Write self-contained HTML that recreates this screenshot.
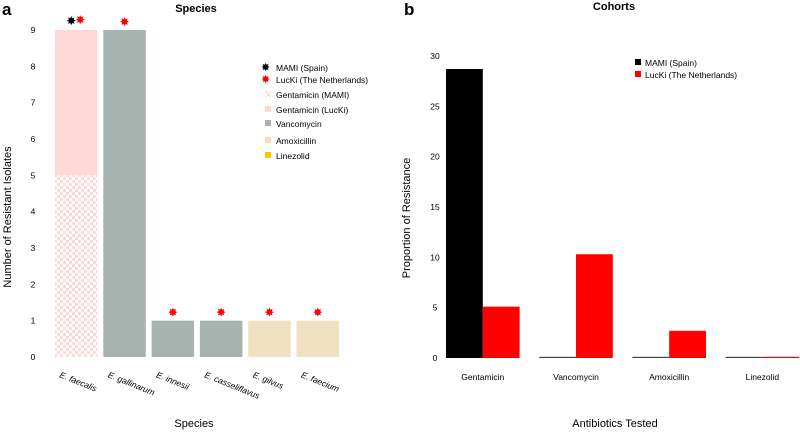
<!DOCTYPE html>
<html><head><meta charset="utf-8"><style>
body{margin:0;background:#fff;font-family:"Liberation Sans",sans-serif}
svg text{font-family:"Liberation Sans",sans-serif}
</style></head><body>
<svg id="c" width="800" height="430" viewBox="0 0 800 430">
<defs>
<pattern id="chk" width="6" height="6" patternUnits="userSpaceOnUse">
<rect width="6" height="6" fill="#fff"/><rect width="3" height="3" fill="#fcd9d6"/><rect x="3" y="3" width="3" height="3" fill="#fcd9d6"/>
</pattern>
</defs>
<text x="2" y="15" font-size="17" font-weight="bold">a</text>
<text x="196" y="12" font-size="11" font-weight="bold" text-anchor="middle">Species</text>
<text x="404" y="15" font-size="17" font-weight="bold">b</text>
<text x="614" y="10" font-size="11" font-weight="bold" text-anchor="middle">Cohorts</text>
<text transform="translate(11,217) rotate(-90)" font-size="11" text-anchor="middle">Number of Resistant Isolates</text>
<text x="194" y="427" font-size="11" text-anchor="middle">Species</text>
<text transform="translate(410,218) rotate(-90)" font-size="11" text-anchor="middle">Proportion of Resistance</text>
<text x="615" y="427" font-size="11" text-anchor="middle">Antibiotics Tested</text>
<g id="ga"></g><g id="gb"></g>
<g font-size="8.5">
<text x="261" y="71" fill="#000" font-size="11">✸</text><text x="276" y="71">MAMI (Spain)</text>
<text x="261" y="83" fill="#f00" font-size="11">✸</text><text x="276" y="83">LucKi (The Netherlands)</text>
<rect x="265" y="91" width="6" height="6" fill="url(#chk)"/><text x="276" y="98">Gentamicin (MAMI)</text>
<rect x="265" y="106" width="6" height="6" fill="#fcd9d6"/><text x="276" y="113">Gentamicin (LucKi)</text>
<rect x="265" y="120" width="6" height="6" fill="#a8b2ae"/><text x="276" y="127">Vancomycin</text>
<rect x="265" y="137" width="6" height="6" fill="#efe1c0"/><text x="276" y="144">Amoxicillin</text>
<rect x="265" y="152" width="6" height="6" fill="#f8c600"/><text x="276" y="159">Linezolid</text>
</g>
<g font-size="8.5">
<rect x="635" y="59" width="6" height="6" fill="#000"/><text x="645" y="66">MAMI (Spain)</text>
<rect x="635" y="71" width="6" height="6" fill="#f00"/><text x="645" y="78">LucKi (The Netherlands)</text>
</g>
</svg>
<script>
const NS='http://www.w3.org/2000/svg';
function mk(p,t,a,txt){const e=document.createElementNS(NS,t);for(const k in a)e.setAttribute(k,a[k]);if(txt!=null)e.textContent=txt;p.appendChild(e);return e;}
// Panel A data
const speciesCats=['E. faecalis','E. gallinarum','E. innesii','E. casseliflavus','E. gilvus','E. faecium'];
const gentMami=[5,0,0,0,0,0];
const gentLucki=[4,0,0,0,0,0];
const vanco=[0,9,1,1,0,0];
const amoxi=[0,0,0,0,1,1];
const starMami=[1,0,0,0,0,0];
const starLucki=[1,1,1,1,1,1];
const ticksA=[0,1,2,3,4,5,6,7,8,9];
// Panel B data
const antibiotics=['Gentamicin','Vancomycin','Amoxicillin','Linezolid'];
const mamiProp=[28.7,0.1,0.1,0.1];
const luckiProp=[5.1,10.3,2.7,0.1];
const ticksB=[0,5,10,15,20,25,30];

const ga=document.getElementById('ga');
const yA=v=>357-v*36.33, xA=i=>55+i*48.3;
ticksA.forEach(t=>{const e=mk(ga,'text',{x:33,y:yA(t)+3,'font-size':8.5,'text-anchor':'middle'},t);

});
speciesCats.forEach((c,i)=>{
  let base=0;const x=xA(i),w=42.5;
  [[gentMami,'url(#chk)'],[gentLucki,'#fcd9d6'],[vanco,'#a8b2ae'],[amoxi,'#efe1c0']].forEach(([arr,f])=>{
    const v=arr[i];if(!v)return;
    const r=mk(ga,'rect',{x:x,y:yA(base+v),width:w,height:yA(base)-yA(base+v),fill:f});
    
    
    base+=v;});
  const top=yA(base)-12;
  if(starMami[i]&&starLucki[i]){
    const s1=mk(ga,'text',{x:x+w/2-5,y:top+7,'font-size':12,'text-anchor':'middle',fill:'#000'},'✸');
    
    
    const s2=mk(ga,'text',{x:x+w/2+4,y:top+6,'font-size':12,'text-anchor':'middle',fill:'#f00'},'✸');
    
    
  } else if(starLucki[i]){
    const s=mk(ga,'text',{x:x+w/2,y:top+8,'font-size':12,'text-anchor':'middle',fill:'#f00'},'✸');
    
    
  }
  const l=mk(ga,'text',{transform:`translate(${x+4},377) rotate(22)`,'font-size':8.5,'font-style':'italic'},c);
  
  
});
const gb=document.getElementById('gb');
const yB=v=>358-v*10.07, xB=i=>446+i*93.2;
ticksB.forEach(t=>{const e=mk(gb,'text',{x:435,y:yB(t)+3,'font-size':8.5,'text-anchor':'middle'},t);

});
antibiotics.forEach((c,i)=>{
  const x=xB(i),w=36.8;
  const h1=Math.max(1.2,358-yB(mamiProp[i])), h2=Math.max(1.2,358-yB(luckiProp[i]));
  const b1=mk(gb,'rect',{x:x,y:358-h1,width:w,height:h1,fill:i?'#444':'#000'});
  
  
  const b2=mk(gb,'rect',{x:x+w,y:358-h2,width:w,height:h2,fill:'#f00'});
  
  
  const l=mk(gb,'text',{x:x+w,y:380,'font-size':8.5,'text-anchor':'middle'},c);
  
  
});
</script>
</body></html>
